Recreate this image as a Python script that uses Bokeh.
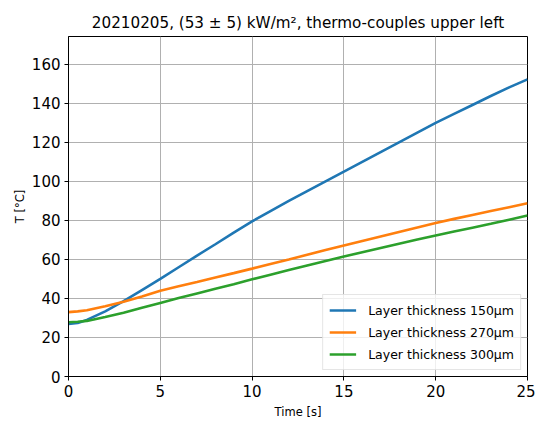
from bokeh.plotting import figure
from bokeh.models import Range1d, Legend, LegendItem, FixedTicker
from bokeh.embed import file_html
from bokeh.resources import INLINE

# Data
time_s = [0, 0.5, 1, 2, 3, 4, 5, 6, 7, 8, 9, 10, 11, 12, 13, 14, 15, 16, 17, 18, 19, 20, 21, 22, 23, 24, 25]
t_150 = [27, 27.4, 29, 33.4, 38.6, 44.3, 50, 56, 62, 67.8, 73.8, 79.5, 84.8, 90, 95, 100, 105, 110, 115, 120, 125, 130, 134.6, 139.2, 143.8, 148.2, 152.3]
t_270 = [33, 33.4, 34, 36, 38.3, 41, 44, 46.3, 48.5, 50.8, 53, 55.3, 57.7, 60, 62.4, 64.8, 67.2, 69.5, 71.8, 74.1, 76.4, 78.7, 80.8, 82.8, 84.8, 86.8, 88.8]
t_300 = [27.8, 28.1, 28.5, 30.5, 32.7, 35.2, 37.7, 40.2, 42.6, 45, 47.3, 49.8, 52.2, 54.6, 56.9, 59.2, 61.5, 63.7, 65.9, 68.1, 70.2, 72.3, 74.3, 76.3, 78.3, 80.4, 82.5]
labels = ["Layer thickness 150μm", "Layer thickness 270μm", "Layer thickness 300μm"]
colors = ["#1f77b4", "#ff7f0e", "#2ca02c"]
x_ticks = [0, 5, 10, 15, 20, 25]
y_ticks = [0, 20, 40, 60, 80, 100, 120, 140, 160]

FONT = "DejaVu Sans"

p = figure(width=535, height=421, output_backend="svg", toolbar_location=None,
           x_range=Range1d(0, 25), y_range=Range1d(0, 174.3),
           title="20210205, (53 ± 5) kW/m², thermo-couples upper left",
           min_border_left=68, min_border_right=8, min_border_top=36, min_border_bottom=0)

p.title.text_font = FONT
p.title.text_font_size = "15.2px"
p.title.text_font_style = "normal"
p.title.align = "center"
p.title.text_color = "#000000"
p.title.standoff = 9
p.title.offset = -6

p.outline_line_color = "black"
p.outline_line_width = 1
p.outline_line_alpha = 1

for ax, ticks in ((p.xaxis[0], x_ticks), (p.yaxis[0], y_ticks)):
    ax.ticker = FixedTicker(ticks=ticks)
    ax.major_label_text_font = FONT
    ax.major_label_text_font_size = "15px"
    ax.major_label_text_color = "black"
    ax.axis_label_text_font = FONT
    ax.axis_label_text_font_size = "11.5px"
    ax.axis_label_text_font_style = "normal"
    ax.axis_label_text_color = "black"
    ax.major_tick_out = 4
    ax.major_tick_in = 0
    ax.minor_tick_line_color = None
    ax.axis_line_color = "black"
    ax.major_tick_line_color = "black"

p.xaxis.axis_label = "Time [s]"
p.yaxis.axis_label = "T [°C]"
p.xaxis.major_label_standoff = 4
p.yaxis.major_label_standoff = 4
p.xaxis.axis_label_standoff = 5
p.yaxis.axis_label_standoff = 2

p.xgrid.ticker = FixedTicker(ticks=x_ticks)
p.ygrid.ticker = FixedTicker(ticks=y_ticks)
p.grid.grid_line_color = "#b0b0b0"
p.grid.grid_line_width = 1

items = []
for ys, lab, col in zip((t_150, t_270, t_300), labels, colors):
    r = p.line(time_s, ys, line_color=col, line_width=2.6)
    items.append(LegendItem(label=lab, renderers=[r]))

legend = Legend(items=items, location="bottom_right")
legend.margin = 6
legend.padding = 6
legend.spacing = 4
legend.glyph_width = 27
legend.glyph_height = 18
legend.label_standoff = 12
legend.label_text_font = FONT
legend.label_text_font_size = "12.5px"
legend.label_text_color = "black"
legend.border_line_color = "#cccccc"
legend.border_line_width = 1
legend.background_fill_alpha = 0.8
p.add_layout(legend)

open("out.html", "w").write(file_html(p, INLINE))
